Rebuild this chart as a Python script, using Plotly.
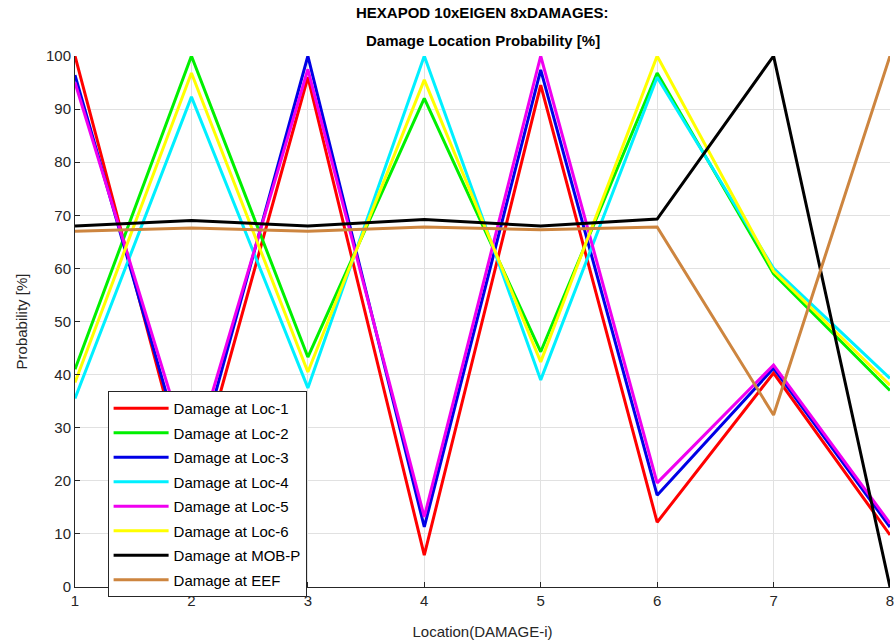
import plotly.graph_objects as go

locations = [1, 2, 3, 4, 5, 6, 7, 8]
loc1 = [100, 17, 96, 6, 94.5, 12.2, 40.3, 9.8]
loc2 = [41, 100, 43.3, 92, 44.3, 96.8, 59, 37]
loc3 = [96.4, 20, 100, 11.3, 97.4, 17.3, 41.2, 11.3]
loc4 = [35.5, 92.3, 37.5, 100, 39, 96, 60, 39.3]
loc5 = [95, 23.3, 97.5, 13.2, 100, 19.6, 41.8, 12]
loc6 = [38.5, 96.8, 40.5, 95.5, 42.4, 100, 59.5, 38]
mobp = [68, 69, 68, 69.2, 68, 69.3, 100, 0]
eef = [67, 67.6, 67, 67.8, 67.3, 67.8, 32.4, 100]

series = [
    ("Damage at Loc-1", loc1, "rgb(255,0,0)"),
    ("Damage at Loc-2", loc2, "rgb(0,240,0)"),
    ("Damage at Loc-3", loc3, "rgb(0,0,230)"),
    ("Damage at Loc-4", loc4, "rgb(0,240,255)"),
    ("Damage at Loc-5", loc5, "rgb(240,0,240)"),
    ("Damage at Loc-6", loc6, "rgb(255,255,0)"),
    ("Damage at MOB-P", mobp, "rgb(0,0,0)"),
    ("Damage at EEF", eef, "rgb(205,133,63)"),
]

title_lines = ["HEXAPOD 10xEIGEN 8xDAMAGES:", "Damage Location Probability [%]"]

FONT = "Liberation Sans, Arial"
DARK = "rgb(38,38,38)"

fig = go.Figure()
for i, (name, vals, col) in enumerate(series):
    fig.add_trace(go.Scatter(x=locations, y=vals, mode="lines", name=name,
                             legendgroup=f"g{i}",
                             line=dict(color=col, width=3)))

axis_common = dict(showgrid=True, gridcolor="rgb(225,225,225)", gridwidth=1,
                   showline=True, linecolor=DARK, linewidth=1,
                   ticks="inside", ticklen=5, tickcolor=DARK,
                   tickfont=dict(family=FONT, size=15, color=DARK),
                   ticklabeloverflow="allow",
                   zeroline=False, mirror=False, automargin=False)

fig.update_layout(
    width=894, height=642,
    paper_bgcolor="white", plot_bgcolor="white",
    margin=dict(l=75, r=4, t=56, b=55),
    xaxis=dict(range=[1, 8], tickvals=locations, ticktext=[str(v) for v in locations],
               title=dict(text="Location(DAMAGE-i)", standoff=18,
                          font=dict(family=FONT, size=15, color=DARK)),
               **axis_common),
    yaxis=dict(range=[0, 100], tickvals=list(range(0, 101, 10)),
               title=dict(text="Probability [%]", standoff=14,
                          font=dict(family=FONT, size=15, color=DARK)),
               **axis_common),
    legend=dict(x=0.04, y=0.369, xanchor="left", yanchor="top",
                bgcolor="white", bordercolor=DARK, borderwidth=1,
                font=dict(family=FONT, size=15, color="black"),
                tracegroupgap=2, itemwidth=55),
    showlegend=True,
    annotations=[
        dict(text="<b>" + title_lines[0] + "</b>", xref="paper", yref="paper",
             x=0.5, y=1, yshift=44, xanchor="center", yanchor="middle", showarrow=False,
             font=dict(family=FONT, size=15, color="black")),
        dict(text="<b>" + title_lines[1] + "</b>", xref="paper", yref="paper",
             x=0.5, y=1, yshift=16, xanchor="center", yanchor="middle", showarrow=False,
             font=dict(family=FONT, size=15, color="black")),
    ],
)

fig.write_html("out.html", config={"displayModeBar": False},
               post_script="document.body.style.margin='0';document.body.style.overflow='hidden';")
